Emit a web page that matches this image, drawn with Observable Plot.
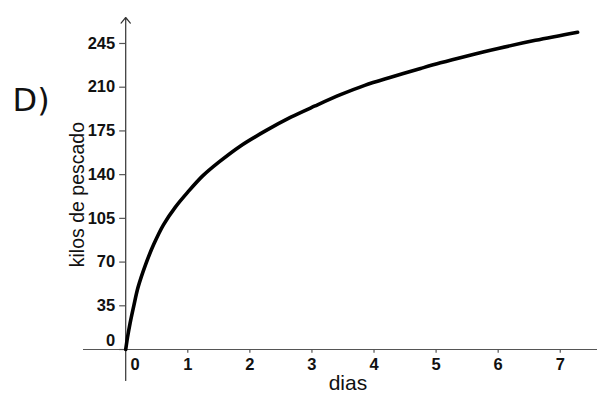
<!DOCTYPE html>
<html>
<head>
<meta charset="utf-8">
<script src="https://cdn.jsdelivr.net/npm/d3@7"></script>
<script src="https://cdn.jsdelivr.net/npm/@observablehq/plot@0.6"></script>
<style>
  html, body { margin: 0; padding: 0; background: #fff; }
  svg { display: block; }
</style>
</head>
<body>
<div id="chart"></div>
<script>
const dias = [0, 0.03, 0.07, 0.13, 0.2, 0.32, 0.45, 0.61, 0.8, 1, 1.24, 1.5, 1.85, 2.25, 2.66, 3.05, 3.46, 3.85, 4.27, 4.75, 5.07, 5.5, 6, 6.6, 7.28];
const kilos = [0, 10, 21, 35, 50, 68, 84, 100, 114, 126, 139, 150, 163, 175, 186, 195, 204, 211.5, 218, 225, 229.5, 235, 241, 247.5, 254];
const xTicks = [0, 1, 2, 3, 4, 5, 6, 7];
const yTicks = [0, 35, 70, 105, 140, 175, 210, 245];
const xLabel = "dias";
const yLabel = "kilos de pescado";
const panelLabel = "D)";

const data = dias.map((d, i) => ({dias: d, kilos: kilos[i]}));
const xMin = -0.68, xMax = 7.6, yMin = -24.8, yMax = 265.8;
const font = "Liberation Sans, Arial, sans-serif";
const tickStyle = {fontSize: 16.5, fill: "#111", fontWeight: "bold", fontFamily: font};

const chart = Plot.plot({
  width: 597,
  height: 393,
  marginLeft: 83,
  marginRight: 0,
  marginTop: 17,
  marginBottom: 13,
  style: {fontFamily: font, background: "#fff", overflow: "visible"},
  x: {domain: [xMin, xMax], axis: null},
  y: {domain: [yMin, yMax], axis: null},
  marks: [
    // axes
    Plot.ruleY([0], {x1: xMin, x2: xMax, stroke: "#555", strokeWidth: 1.2}),
    Plot.arrow([0], {x1: 0, x2: 0, y1: yMin, y2: yMax, stroke: "#333", strokeWidth: 1.2, headLength: 9, headAngle: 80}),
    // ticks
    Plot.ruleX(xTicks.filter(d => d !== 0), {x: d => d, y1: 0, y2: -3, stroke: "#555", strokeWidth: 1.2}),
    Plot.ruleY(yTicks, {y: d => d, x1: -0.097, x2: 0, stroke: "#555", strokeWidth: 1.2}),
    // tick labels
    Plot.text(xTicks.filter(d => d !== 0), {x: d => d, y: 0, dy: 15, text: d => String(d), ...tickStyle}),
    Plot.text(xTicks.filter(d => d === 0), {x: d => d, y: 0, dx: 9.5, dy: 15, text: d => String(d), ...tickStyle}),
    Plot.text(yTicks.filter(d => d !== 0), {x: 0, y: d => d, dx: -10.5, text: d => String(d), textAnchor: "end", ...tickStyle}),
    Plot.text(yTicks.filter(d => d === 0), {x: 0, y: d => d, dx: -10.5, dy: -9, text: d => String(d), textAnchor: "end", ...tickStyle}),
    // axis labels
    Plot.text([xLabel], {x: 3.58, y: -27, text: d => d, fontSize: 21, fill: "#111", fontFamily: font}),
    Plot.text([yLabel], {x: -0.77, y: 124, text: d => d, rotate: -90, fontSize: 19.5, fill: "#111", fontFamily: font}),
    Plot.text([panelLabel], {frameAnchor: "top-left", dx: -71, dy: 71, text: d => d, textAnchor: "start", fontSize: 32, fontFamily: "DejaVu Sans", fill: "#111"}),
    // curve
    Plot.line(data, {x: "dias", y: "kilos", curve: "catmull-rom", stroke: "#000", strokeWidth: 3.6})
  ]
});
document.getElementById("chart").appendChild(chart);
</script>
</body>
</html>
